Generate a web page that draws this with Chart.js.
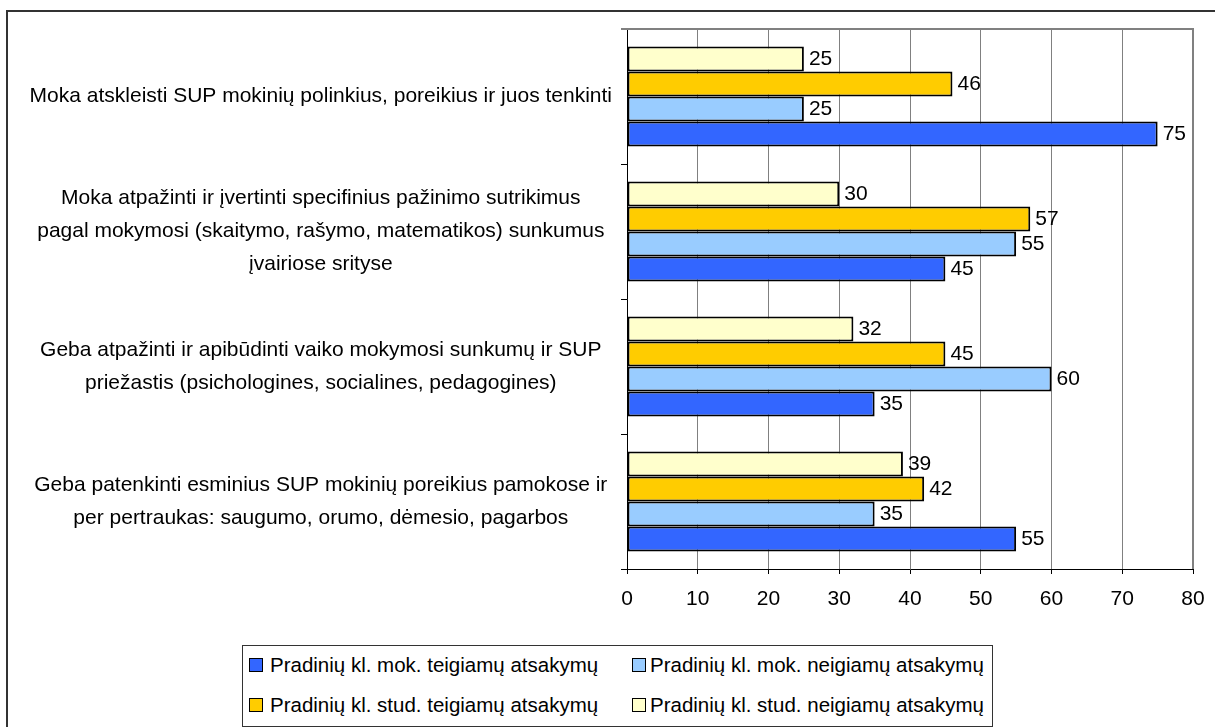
<!DOCTYPE html>
<html>
<head>
<meta charset="utf-8">
<script src="https://cdn.jsdelivr.net/npm/chart.js@4.4.0/dist/chart.umd.min.js"></script>
<style>
html,body{margin:0;padding:0;background:#fff;width:1215px;height:727px;overflow:hidden;font-family:"Liberation Sans",Arial,sans-serif;}
#frame{position:absolute;left:6px;top:10px;width:1230px;height:740px;border-left:2px solid #333;border-top:2px solid #333;}
#chart{position:absolute;left:0;top:0;}
#legend{position:absolute;left:242px;top:645px;width:749px;height:80px;border:1px solid #333;background:#fff;}
.item{position:absolute;font-size:20.5px;color:#000;white-space:nowrap;line-height:24px;}
.sw{position:absolute;width:12px;height:12px;border:1px solid #000;}
</style>
</head>
<body>
<div id="frame"></div>
<canvas id="chart" width="1215" height="620"></canvas>
<div id="legend"></div>
<script>
// ---- data ----
const categories = [
  ["Moka atskleisti SUP mokinių polinkius, poreikius ir juos tenkinti"],
  ["Moka atpažinti ir įvertinti specifinius pažinimo sutrikimus", "pagal mokymosi (skaitymo, rašymo, matematikos) sunkumus", "įvairiose srityse"],
  ["Geba atpažinti ir apibūdinti vaiko mokymosi sunkumų ir SUP", "priežastis (psichologines, socialines, pedagogines)"],
  ["Geba patenkinti esminius SUP mokinių poreikius pamokose ir", "per pertraukas: saugumo, orumo, dėmesio, pagarbos"]
];
const seriesNames = [
  "Pradinių kl. mok. teigiamų atsakymų",
  "Pradinių kl. mok. neigiamų atsakymų",
  "Pradinių kl. stud. teigiamų atsakymų",
  "Pradinių kl. stud. neigiamų atsakymų"
];
const mokTeigiamu = [75, 45, 35, 55];
const mokNeigiamu = [25, 55, 60, 35];
const studTeigiamu = [46, 57, 45, 42];
const studNeigiamu = [25, 30, 32, 39];
const xTickValues = [0, 10, 20, 30, 40, 50, 60, 70, 80];

const colors = ["#3366FF", "#99CCFF", "#FFCC00", "#FFFFCC"];
const FONT = '"Liberation Sans", Arial, sans-serif';

// datasets listed top-to-bottom within each category
const seriesValues = [mokTeigiamu, mokNeigiamu, studTeigiamu, studNeigiamu];
const drawOrder = [3, 2, 1, 0];
const datasets = drawOrder.map(i => ({
  label: seriesNames[i],
  data: seriesValues[i],
  backgroundColor: colors[i],
  borderColor: "#000",
  borderWidth: 2,
  borderSkipped: false
}));

const valueLabels = {
  id: 'valueLabels',
  afterDatasetsDraw(chart) {
    const ctx = chart.ctx;
    ctx.save();
    ctx.font = '21px ' + FONT;
    ctx.fillStyle = '#000';
    ctx.textAlign = 'left';
    ctx.textBaseline = 'middle';
    chart.data.datasets.forEach((ds, i) => {
      chart.getDatasetMeta(i).data.forEach((el, j) => {
        ctx.fillText(String(ds.data[j]), el.x + 5, el.y);
      });
    });
    ctx.restore();
  }
};

const topBorder = {
  id: 'topBorder',
  beforeDatasetsDraw(chart) {
    const a = chart.chartArea, ctx = chart.ctx;
    ctx.save();
    ctx.strokeStyle = '#808080';
    ctx.lineWidth = 2;
    ctx.beginPath();
    ctx.moveTo(a.left - 6, a.top);
    ctx.lineTo(a.right + 1, a.top);
    ctx.moveTo(a.right, a.top);
    ctx.lineTo(a.right, a.bottom);
    ctx.stroke();
    ctx.restore();
  }
};

new Chart(document.getElementById('chart'), {
  type: 'bar',
  data: { labels: categories, datasets },
  plugins: [topBorder, valueLabels],
  options: {
    indexAxis: 'y',
    responsive: false,
    animation: false,
    layout: { padding: { left: 0, top: 29, right: 22, bottom: 11 } },
    plugins: { legend: { display: false }, tooltip: { enabled: false } },
    datasets: { bar: { categoryPercentage: 0.74, barPercentage: 1 } },
    scales: {
      x: {
        min: 0, max: 80,
        afterBuildTicks(s) { s.ticks = xTickValues.map(v => ({ value: v })); },
        afterFit(s) { s.height = 40; s.paddingLeft = 0; s.paddingRight = 0; },
        ticks: { color: '#000', font: { size: 21, family: FONT }, padding: 13 },
        grid: { color: '#808080', lineWidth: 1, tickLength: 5, tickColor: '#000' },
        border: { color: '#000', width: 1 }
      },
      y: {
        afterFit(s) { s.width = 627; s.paddingTop = 0; s.paddingBottom = 0; },
        ticks: { crossAlign: 'center', color: '#000', font: { size: 21, family: FONT, lineHeight: '33px' }, padding: 9 },
        grid: { offset: true, drawOnChartArea: false, tickLength: 6, color: '#000' },
        border: { color: '#000', width: 1 }
      }
    }
  }
});

// legend (two columns, same order as the reference)
const legend = document.getElementById('legend');
const pos = [[6, 7, 21], [389, 7, 18], [6, 47, 21], [389, 47, 18]];
seriesNames.forEach((name, i) => {
  const sw = document.createElement('div');
  sw.className = 'sw';
  sw.style.left = pos[i][0] + 'px';
  sw.style.top = (pos[i][1] + 5) + 'px';
  sw.style.background = colors[i];
  legend.appendChild(sw);
  const t = document.createElement('div');
  t.className = 'item';
  t.style.left = (pos[i][0] + pos[i][2]) + 'px';
  t.style.top = pos[i][1] + 'px';
  t.textContent = name;
  legend.appendChild(t);
});
</script>
</body>
</html>
